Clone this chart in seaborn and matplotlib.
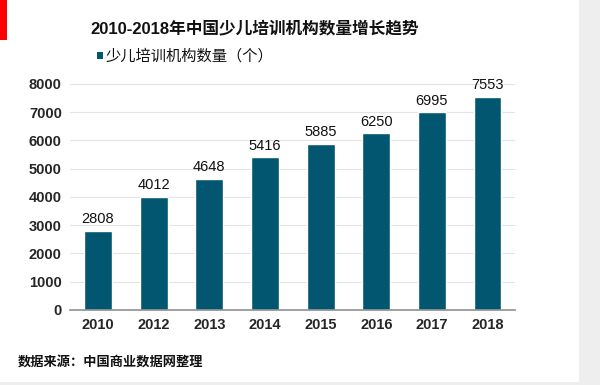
import matplotlib
matplotlib.use("Agg")
import matplotlib.pyplot as plt
import matplotlib.patches as mpatches
import seaborn as sns
import pandas as pd

years = ["2010", "2012", "2013", "2014", "2015", "2016", "2017", "2018"]
counts = [2808, 4012, 4648, 5416, 5885, 6250, 6995, 7553]
yticks = [0, 1000, 2000, 3000, 4000, 5000, 6000, 7000, 8000]

sns.set_theme(style="white")
plt.rcParams["font.family"] = ["Liberation Sans", "Noto Sans CJK SC", "DejaVu Sans"]

bar_color = "#02566f"
df = pd.DataFrame({"year": years, "count": counts})

fig = plt.figure(figsize=(6, 3.85), dpi=100)
fig.patch.set_facecolor("#eeeeee")
fig.patches.append(mpatches.Rectangle((0, 0.008), 0.965, 0.992, transform=fig.transFigure,
                                      facecolor="white", edgecolor="none", zorder=-10))
fig.patches.append(mpatches.Rectangle((0, 0.895), 0.012, 0.105, transform=fig.transFigure,
                                      facecolor="#ff0000", edgecolor="none", zorder=-5))

ax = fig.add_axes([0.117, 0.195, 0.742, 0.587])
ax.set_facecolor("white")
sns.barplot(data=df, x="year", y="count", color=bar_color, width=0.5, ax=ax, saturation=1)

ax.set_ylim(0, 8000)
ax.set_xlim(-0.5, 7.5)
ax.set_yticks(yticks)
ax.yaxis.grid(True, color="#e3e3e3", linewidth=0.8)
ax.set_axisbelow(True)
for s in ["top", "right", "left"]:
    ax.spines[s].set_visible(False)
ax.spines["bottom"].set_color("#909090")
ax.spines["bottom"].set_linewidth(1.2)
ax.tick_params(axis="both", length=0, labelsize=10.5, pad=6)
for lbl in ax.get_xticklabels() + ax.get_yticklabels():
    lbl.set_fontweight("bold")
ax.set_xlabel("")
ax.set_ylabel("")

for i, v in enumerate(counts):
    ax.text(i, v + 150, str(v), ha="center", va="bottom", fontsize=10.5, color="#111111")

fig.text(0.425, 0.925, "2010-2018年中国少儿培训机构数量增长趋势", ha="center", va="center",
         fontsize=12, fontweight="bold", color="#111111")
fig.patches.append(mpatches.Rectangle((0.161, 0.847), 0.011, 0.017, transform=fig.transFigure,
                                      facecolor=bar_color, edgecolor="none"))
fig.text(0.175, 0.855, "少儿培训机构数量（个）", ha="left", va="center",
         fontsize=11, color="#111111")
fig.text(0.03, 0.06, "数据来源：中国商业数据网整理", ha="left", va="center",
         fontsize=9.5, fontweight="bold", color="#111111")

fig.savefig("out.png", dpi=100, facecolor=fig.get_facecolor())
